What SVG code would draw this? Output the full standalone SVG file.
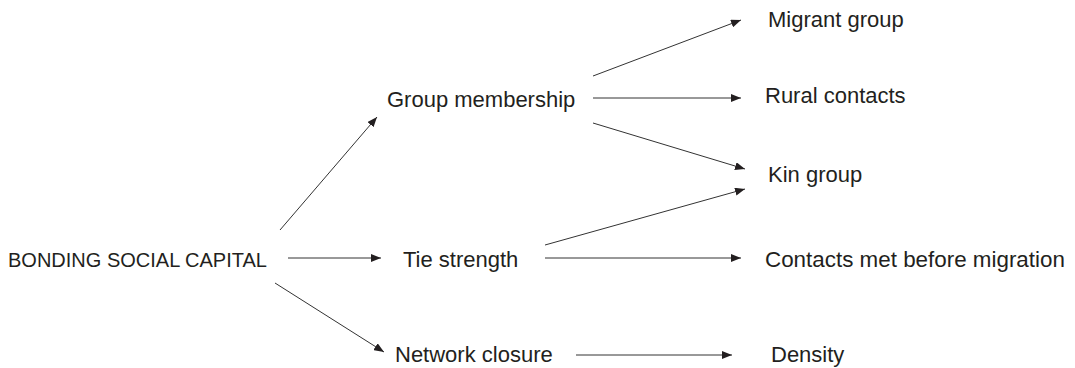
<svg xmlns="http://www.w3.org/2000/svg" width="1075" height="368" viewBox="0 0 1075 368">
<style>
  .t { font-family: "Liberation Sans", Arial, sans-serif; font-size: 22px; fill: #231f20; }
  .caps { font-size: 20px; }
  .c { stroke: #333; stroke-width: 1; fill: none; marker-end: url(#ah); }
</style>
<defs>
  <marker id="ah" viewBox="0 0 10 8" refX="10" refY="4" markerWidth="10" markerHeight="8" markerUnits="userSpaceOnUse" orient="auto">
    <path d="M0,0 L10,4 L0,8 z" fill="#231f20"/>
  </marker>
</defs>
<rect width="1075" height="368" fill="#fff"/>
<g id="connectors">
  <line class="c" x1="280" y1="230" x2="377" y2="117"/>
  <line class="c" x1="288" y1="258" x2="381" y2="258"/>
  <line class="c" x1="275" y1="283" x2="384" y2="352"/>
  <line class="c" x1="593" y1="76" x2="741" y2="20"/>
  <line class="c" x1="593" y1="98" x2="741" y2="98"/>
  <line class="c" x1="593" y1="123" x2="745" y2="169"/>
  <line class="c" x1="545" y1="245" x2="745" y2="189"/>
  <line class="c" x1="545" y1="258" x2="741" y2="258"/>
  <line class="c" x1="576" y1="355" x2="732" y2="355"/>
</g>
<g id="bonding"><text class="t caps" x="8" y="267">BONDING SOCIAL CAPITAL</text></g>
<g id="group-membership"><text class="t" x="387" y="107">Group membership</text></g>
<g id="tie-strength"><text class="t" x="403" y="267">Tie strength</text></g>
<g id="network-closure"><text class="t" x="395" y="362">Network closure</text></g>
<g id="migrant-group"><text class="t" x="768" y="27">Migrant group</text></g>
<g id="rural-contacts"><text class="t" x="765" y="103">Rural contacts</text></g>
<g id="kin-group"><text class="t" x="768" y="182">Kin group</text></g>
<g id="contacts-met"><text class="t" x="765" y="267" style="font-size:22.4px">Contacts met before migration</text></g>
<g id="density"><text class="t" x="771" y="362">Density</text></g>
</svg>
